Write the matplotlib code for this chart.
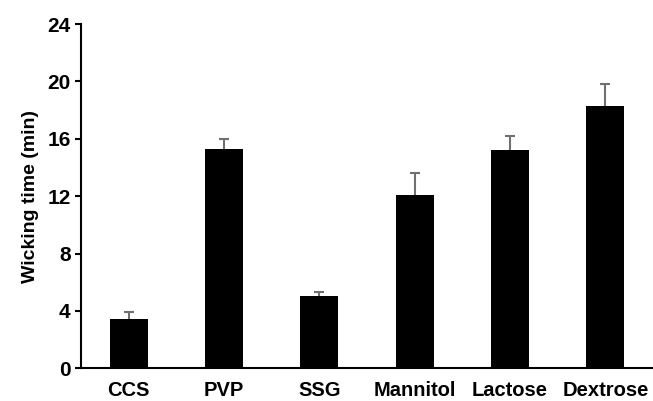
import matplotlib
matplotlib.use('Agg')
import matplotlib.pyplot as plt

# wicking time for each excipient
categories = ['CCS', 'PVP', 'SSG', 'Mannitol', 'Lactose', 'Dextrose']
wicking_time = [3.41, 15.26, 5.02, 12.08, 15.21, 18.30]
sd = [0.49, 0.70, 0.32, 1.51, 1.00, 1.49]
y_ticks = [0, 4, 8, 12, 16, 20, 24]

plt.rcParams['font.family'] = ['Liberation Sans', 'DejaVu Sans']
plt.rcParams['font.weight'] = 'bold'

fig = plt.figure(figsize=(6.53, 4.01), dpi=100)
ax = fig.add_axes([0.124, 0.0815, 0.876, 0.8585])

x = range(len(categories))
# error bars sit behind the bars so only the upper half shows
ax.errorbar(x, wicking_time, yerr=sd, fmt='none',
            ecolor='#707070', elinewidth=1.5, capsize=3.5, capthick=1.5,
            zorder=1)
ax.bar(x, wicking_time, width=0.4, color='black', zorder=2)

ax.set_xlim(-0.5, 5.5)
ax.set_ylim(0, 24)
ax.set_yticks(y_ticks)
ax.set_xticks(list(x))
ax.set_xticklabels(categories, fontsize=14.5, fontweight='bold')
ax.tick_params(axis='y', labelsize=15, width=1.5, length=4, direction='out')
ax.tick_params(axis='x', length=0, pad=9)
for lbl in ax.get_yticklabels():
    lbl.set_fontweight('bold')

ax.spines['top'].set_visible(False)
ax.spines['right'].set_visible(False)
ax.spines['left'].set_linewidth(1.5)
ax.spines['bottom'].set_linewidth(1.5)

ax.set_ylabel('Wicking time (min)', fontsize=14, fontweight='bold', labelpad=6)

fig.savefig('out.png', dpi=100)
